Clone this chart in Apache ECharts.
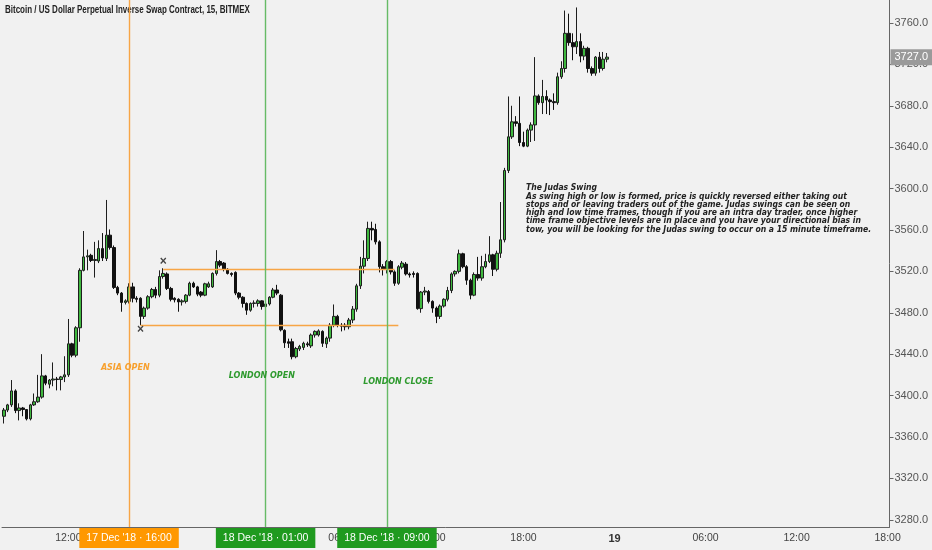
<!DOCTYPE html>
<html>
<head>
<meta charset="utf-8">
<script src="https://cdn.jsdelivr.net/npm/echarts@6/dist/echarts.min.js"></script>
<style>
  html, body { margin: 0; padding: 0; background: #f1f1f1; }
  #chart { width: 932px; height: 550px; }
</style>
</head>
<body>
<div id="chart"></div>
<script>
// 15 min bars, first one is 17 Dec 07:45 (UTC), rows are [open, close, low, high]
const candles = [
  [3380, 3386, 3373, 3388], [3386, 3391, 3384, 3392], [3391, 3404.5, 3389, 3415], [3404.5, 3385.5, 3383, 3406],
  [3385.5, 3388, 3376, 3392.5], [3388, 3386.5, 3380, 3389], [3386.5, 3377.5, 3376, 3387], [3377.5, 3391, 3376, 3392],
  [3391, 3394, 3390, 3402], [3394, 3398.5, 3393, 3420], [3398.5, 3419, 3397, 3440], [3419, 3412, 3410, 3420],
  [3411, 3415, 3407, 3416], [3415, 3416, 3409, 3432], [3416, 3415.5, 3405, 3418], [3415.5, 3418, 3405, 3419],
  [3418, 3420, 3413, 3438], [3420, 3450, 3418, 3474], [3450, 3439, 3437, 3451], [3439, 3465.5, 3437, 3467],
  [3465.5, 3521, 3452, 3523], [3521, 3534, 3520, 3559], [3534, 3535, 3521, 3541], [3535.5, 3530.5, 3529, 3537],
  [3530.5, 3531.5, 3514, 3548.5], [3530, 3542, 3528, 3550], [3542, 3533, 3530, 3557], [3532.5, 3555, 3530, 3589],
  [3555, 3543, 3541, 3560.5], [3543, 3504.5, 3503, 3545], [3504.5, 3499, 3497, 3506], [3499, 3490, 3481, 3500],
  [3490, 3491.5, 3488, 3493], [3491, 3505, 3489, 3508.5], [3505, 3494, 3490, 3509], [3494, 3493, 3490, 3496],
  [3494, 3476.5, 3468, 3495], [3476.5, 3484.5, 3474, 3486], [3484.5, 3495.5, 3483, 3497], [3495.5, 3502.5, 3494, 3504],
  [3502.5, 3497, 3494, 3505], [3497, 3515, 3495, 3521], [3515, 3518, 3513, 3523], [3517.5, 3503.5, 3502, 3519],
  [3503.5, 3493, 3491, 3505], [3494, 3492.5, 3490, 3495], [3493, 3490.5, 3481, 3494], [3490.5, 3491.5, 3487, 3493],
  [3491, 3497, 3489, 3498], [3497, 3508.5, 3496, 3510], [3508.5, 3505, 3504, 3510], [3505, 3498, 3496, 3506],
  [3500, 3497, 3495, 3501], [3497, 3508, 3496, 3509], [3505, 3508, 3504, 3510], [3505, 3518, 3504, 3519],
  [3518, 3529.5, 3516, 3540.5], [3529.5, 3526, 3524, 3531], [3528, 3522, 3520, 3529], [3522, 3518, 3517, 3523],
  [3518, 3517, 3515, 3519], [3519, 3499, 3497, 3520], [3499, 3495, 3493, 3500], [3495, 3489, 3485, 3496],
  [3489, 3482.5, 3478, 3490], [3482.5, 3489, 3481, 3490], [3489, 3489.5, 3485, 3492], [3489, 3491.5, 3486, 3493],
  [3491.5, 3486, 3483, 3492], [3486, 3488.5, 3481, 3490], [3488.5, 3495, 3487, 3496], [3495, 3502, 3494, 3504],
  [3502, 3499, 3497, 3507], [3497, 3463.5, 3462, 3498], [3463, 3451, 3446, 3464], [3452, 3450.5, 3446, 3455],
  [3452, 3437.5, 3435, 3455], [3437.5, 3445.5, 3436, 3447], [3445, 3447.5, 3443, 3449], [3446.5, 3450.5, 3444, 3452],
  [3450, 3449, 3447, 3452], [3448, 3458.5, 3446, 3460], [3458.5, 3462, 3456, 3463], [3458.5, 3462.5, 3457, 3464],
  [3462, 3450.5, 3447, 3463], [3450, 3455.5, 3446, 3457], [3455.5, 3468, 3452, 3470], [3468, 3476.5, 3466, 3488],
  [3476.5, 3468, 3466, 3478], [3468, 3467, 3462, 3470], [3468, 3466.5, 3463, 3470], [3466.5, 3473, 3464, 3475],
  [3473, 3483.5, 3470, 3486.5], [3483.5, 3506, 3481, 3508], [3506, 3525, 3503, 3534], [3525, 3532.5, 3518, 3550],
  [3532.5, 3561.5, 3530, 3568], [3561.5, 3560, 3550, 3568], [3560.5, 3548.5, 3546, 3566], [3548.5, 3524.5, 3519, 3550],
  [3524.5, 3522, 3516, 3527], [3522, 3529.5, 3518, 3531], [3529.5, 3519.5, 3517, 3531], [3519.5, 3508.5, 3506, 3521],
  [3508.5, 3524.5, 3507, 3526], [3524, 3528, 3522, 3530], [3527, 3517.5, 3516, 3529], [3517.5, 3516.5, 3514, 3519],
  [3518, 3517, 3514, 3520], [3518, 3484, 3483, 3519], [3484, 3500, 3480, 3501], [3500, 3501, 3497, 3505],
  [3500.5, 3491, 3489, 3502], [3491, 3484.5, 3480, 3492], [3484.5, 3476.5, 3470, 3486], [3476.5, 3486.5, 3474, 3488],
  [3486.5, 3493, 3485, 3494], [3493, 3501.5, 3491, 3505], [3501.5, 3517.5, 3499, 3519], [3517.5, 3520, 3515, 3521],
  [3520, 3537, 3518, 3541], [3537, 3524.5, 3523, 3538], [3524.5, 3511.5, 3507, 3526], [3511.5, 3497, 3493, 3513],
  [3497, 3517, 3496, 3519], [3517, 3513.5, 3511, 3534], [3513.5, 3524.5, 3511, 3535], [3524.5, 3529.5, 3523, 3537],
  [3529.5, 3536, 3528, 3554], [3536, 3522, 3515.5, 3537], [3522, 3537.5, 3520, 3540], [3537.5, 3550.5, 3533, 3587],
  [3550.5, 3617.5, 3548, 3620], [3617.5, 3650, 3615, 3689], [3650, 3664.5, 3648, 3680], [3664.5, 3663, 3660, 3670],
  [3663, 3644.5, 3641, 3689], [3644.5, 3641, 3640, 3655], [3641, 3656.5, 3640, 3658], [3656.5, 3661.5, 3645, 3664],
  [3661.5, 3689.5, 3646, 3727], [3689.5, 3683, 3681, 3691], [3683, 3689, 3672, 3705], [3689, 3685.5, 3672, 3695],
  [3685.5, 3684, 3671, 3687], [3684, 3683, 3676, 3692], [3683, 3708, 3681, 3712], [3708, 3716, 3706, 3723],
  [3716, 3750, 3712, 3772], [3750, 3741, 3738, 3769], [3741, 3737, 3724, 3750], [3737, 3742, 3730, 3775],
  [3742, 3728, 3722, 3750], [3728, 3735.5, 3724, 3738], [3735.5, 3716, 3712, 3737], [3716, 3711.5, 3709, 3718],
  [3711.5, 3727, 3709, 3728], [3727, 3716, 3712, 3732], [3716, 3725, 3714, 3732], [3725, 3727, 3722, 3731]
];

const slotCount = 234;               // axis runs on past the last bar to 19 Dec ~18:00
const startTime = Date.UTC(2018, 11, 17, 7, 45);
const yTicks = [3280, 3320, 3360, 3400, 3440, 3480, 3520, 3560, 3600, 3640, 3680, 3720, 3760];
const lastPrice = 3727.0;

// session markers (vertical lines + tag under the axis)
const sessionTimes = ['2018-12-17 16:00', '2018-12-18 01:00', '2018-12-18 09:00'];
const sessionTags = ["17 Dec '18 · 16:00", "18 Dec '18 · 01:00", "18 Dec '18 · 09:00"];
const sessionNames = ['ASIA OPEN', 'LONDON OPEN', 'LONDON CLOSE'];
const sessionNameAt = [['2018-12-17 15:45', 3427], ['2018-12-18 00:45', 3419], ['2018-12-18 09:45', 3413]];

// asia range high / low
const rangeHigh = 3522, rangeLow = 3468;
const rangeHighSpan = ['2018-12-17 18:15', '2018-12-18 09:30'];
const rangeLowSpan = ['2018-12-17 16:45', '2018-12-18 09:45'];
const swingMarks = [['2018-12-17 18:15', 3529], ['2018-12-17 16:45', 3464]];

const noteLines = [
  'The Judas Swing',
  'As swing high or low is formed, price is quickly reversed either taking out',
  'stops and or leaving traders out of the game. Judas swings can be seen on',
  'high and low time frames, though if you are an intra day trader, once higher',
  'time frame objective levels are in place and you have your directional bias in',
  'tow, you will be looking for the Judas swing to occur on a 15 minute timeframe.'
];

function pad(n) { return n < 10 ? '0' + n : '' + n }
const categories = []
for (let i = 0; i < slotCount; i++) {
  const d = new Date(startTime + i * 15 * 60000)
  categories.push(d.getUTCFullYear() + '-' + pad(d.getUTCMonth() + 1) + '-' + pad(d.getUTCDate()) +
    ' ' + pad(d.getUTCHours()) + ':' + pad(d.getUTCMinutes()))
}

const ORANGE_LINE = '#f7a545', GREEN_LINE = '#66bb66'
const ORANGE_TAG = '#ff9800', GREEN_TAG = '#1f9a1f'

function showTick(index) {
  return index >= 17 && (index - 17) % 24 === 0
}

function sessionLine(i, tagColor) {
  return {
    xAxis: sessionTimes[i],
    label: {
      show: true, position: 'start', distance: 1, formatter: sessionTags[i],
      color: '#fff', backgroundColor: tagColor,
      padding: [5, 7, 4, 7], fontSize: 10.5, fontFamily: 'Liberation Sans'
    }
  }
}

const orangeLines = [
  sessionLine(0, ORANGE_TAG),
  [{ coord: [rangeHighSpan[0], rangeHigh] }, { coord: [rangeHighSpan[1], rangeHigh] }],
  [{ coord: [rangeLowSpan[0], rangeLow] }, { coord: [rangeLowSpan[1], rangeLow] }]
]
const greenLines = [sessionLine(1, GREEN_TAG), sessionLine(2, GREEN_TAG)]

const markPoints = []
swingMarks.forEach(m => {
  markPoints.push({ coord: m, label: { formatter: '×', fontSize: 12, fontWeight: 'bold', color: '#444' } })
})
sessionNames.forEach((n, i) => {
  markPoints.push({
    coord: sessionNameAt[i],
    label: {
      formatter: n, fontSize: 8, fontStyle: 'italic', fontWeight: 'bold', fontFamily: 'DejaVu Sans',
      color: i === 0 ? '#f7a02e' : '#2e9a2e'
    }
  })
})

const chart = echarts.init(document.getElementById('chart'))
chart.setOption({
  backgroundColor: '#f1f1f1',
  animation: false,
  grid: { left: 2, right: 42.5, top: 0, bottom: 23 },
  graphic: [
    {
      type: 'text', x: 5, y: 5, scaleX: 0.8,
      style: { text: 'Bitcoin / US Dollar Perpetual Inverse Swap Contract, 15, BITMEX', font: 'bold 10px "Liberation Sans"', fill: '#222' }
    },
    {
      type: 'text', x: 526, y: 184, scaleX: 0.96,
      style: { text: noteLines.join('\n'), font: 'italic bold 8px "DejaVu Sans"', lineHeight: 8.3, fill: '#222' }
    }
  ],
  xAxis: {
    type: 'category',
    data: categories,
    boundaryGap: true,
    axisLine: { lineStyle: { color: '#666' } },
    axisTick: { interval: showTick, alignWithLabel: true, length: 4, lineStyle: { color: '#666' } },
    axisLabel: {
      interval: showTick, margin: 6, color: '#444', fontSize: 10.5, fontFamily: 'Liberation Sans',
      formatter: v => {
        const hm = v.slice(11)
        return hm === '00:00' ? '{d|' + parseInt(v.slice(8, 10), 10) + '}' : hm
      },
      rich: { d: { fontWeight: 'bold', fontSize: 11, color: '#333', fontFamily: 'Liberation Sans' } }
    },
    splitLine: { show: false }
  },
  yAxis: {
    type: 'value',
    position: 'right',
    min: 3273,
    max: 3782.2,
    axisLine: { show: true, lineStyle: { color: '#666' } },
    axisTick: { show: true, customValues: yTicks, length: 4, lineStyle: { color: '#666' } },
    axisLabel: {
      customValues: yTicks, margin: 5, color: '#555', fontSize: 11, fontFamily: 'Liberation Sans',
      formatter: v => v.toFixed(1)
    },
    splitLine: { show: false }
  },
  series: [
    {
      type: 'candlestick',
      data: candles,
      barWidth: 3,
      itemStyle: {
        color: '#3fb83f', color0: '#111',
        borderColor: '#1e1e1e', borderColor0: '#111', borderWidth: 1
      }
    },
    {
      type: 'line', data: [], color: ORANGE_LINE,
      markLine: {
        symbol: ['none', 'none'],
        label: { show: false },
        lineStyle: { color: ORANGE_LINE, width: 1.4, type: 'solid' },
        data: orangeLines
      }
    },
    {
      type: 'line', data: [], color: GREEN_LINE,
      markLine: {
        symbol: ['none', 'none'],
        label: { show: false },
        lineStyle: { color: GREEN_LINE, width: 1.4, type: 'solid' },
        data: greenLines
      }
    },
    {
      type: 'line', data: [], color: '#9a9a9a',
      markLine: {
        symbol: ['none', 'none'],
        lineStyle: { color: 'rgba(0,0,0,0)', width: 0 },
        label: {
          show: true, position: 'end', distance: 1, formatter: lastPrice.toFixed(1),
          color: '#fff', backgroundColor: '#9a9a9a', padding: [3, 4, 2, 4],
          fontSize: 11, fontFamily: 'Liberation Sans'
        },
        data: [{ yAxis: lastPrice }]
      },
      markPoint: {
        symbol: 'circle',
        symbolSize: 1,
        itemStyle: { color: 'rgba(0,0,0,0)' },
        label: { show: true, position: 'inside' },
        data: markPoints
      }
    }
  ]
})
</script>
</body>
</html>
